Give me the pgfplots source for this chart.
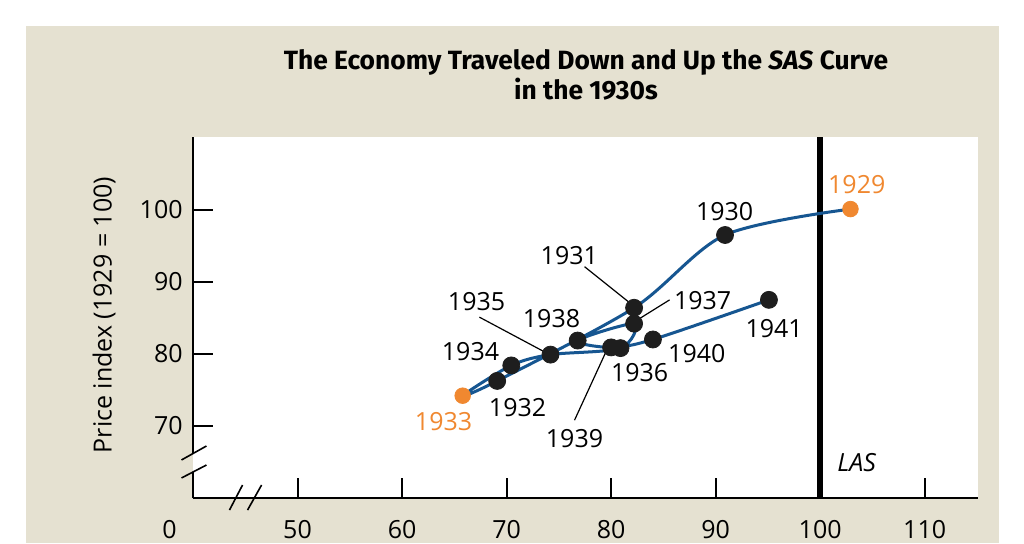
\documentclass[border=0pt]{standalone}
\usepackage{pgfplots}
\pgfplotsset{compat=1.18}
\usepackage{fontspec}
\setmainfont{Open Sans}
\newfontfamily\titlefont{Fira Sans}

\definecolor{panel}{RGB}{229,225,209}
\definecolor{sasblue}{RGB}{22,86,145}
\definecolor{yrorange}{RGB}{240,136,48}
\definecolor{dot}{RGB}{30,30,30}

\newcommand{\lbl}{\fontsize{12.5}{15}\selectfont}

\begin{document}
\begin{tikzpicture}[x=0.5pt,y=0.5pt]
\useasboundingbox (0,0) rectangle (1024,543);
\fill[white] (0,0) rectangle (1024,543);
\fill[panel] (26,0) rectangle (999,517);
\node[align=center, font=\titlefont\bfseries\fontsize{13.2}{15}\selectfont]
  at (586,468) {The Economy Traveled Down and Up the \textit{SAS} Curve\\in the 1930s};

\begin{axis}[
    at={(96.5pt,22.5pt)}, anchor=south west,
    scale only axis,
    width=392.5pt, height=180.5pt,
    xmin=40, xmax=115.1, ymin=60, ymax=110.1,
    axis lines=left,
    axis line style={-, line width=1pt},
    y axis line style={draw=none},
    axis background/.style={fill=white},
    xtick={50,60,70,80,90,100,110},
    ytick={70,80,90,100},
    tick align=inside,
    major tick length=10pt,
    tick style={line width=1pt, black},
    /pgf/number format/assume math mode=true,
    ticklabel style={font=\lbl},
    xticklabel style={anchor=base, yshift=-20pt},
    yticklabel style={anchor=east, inner sep=0pt, xshift=-5pt},
    clip=false,
]
% y axis with break
\draw[line width=1pt] (axis cs:40,60) -- (axis cs:40,63.6);
\draw[line width=1pt] (axis cs:40,66.25) -- (axis cs:40,110.1);
\draw[line width=0.8pt] (axis cs:38.9,65.28) -- (axis cs:41.29,67.22);
\draw[line width=0.8pt] (axis cs:38.9,62.78) -- (axis cs:41.29,64.58);
% x axis break
\draw[line width=0.8pt] (axis cs:43.49,58.33) -- (axis cs:44.74,61.8);
\draw[line width=0.8pt] (axis cs:45.22,58.33) -- (axis cs:46.56,61.8);
\node[font=\lbl, anchor=base] at (axis cs:37.75,60) [yshift=-20pt] {0};
\node[font=\lbl, rotate=90] at (axis cs:31.5,85.4) {Price index (1929 = 100)};

% LAS
\addplot[line width=3pt, black] coordinates {(100,60) (100,110.1)};
\node[font=\lbl\itshape] at (axis cs:103.5,64.9) {LAS};

% path of the economy, year by year
\addplot[smooth, line width=1.5pt, sasblue] coordinates {
    (102.9,100.1) (90.9,96.5) (82.2,86.4) (69.1,76.25) (65.8,74.2)
    (70.45,78.4) (74.2,79.9) (80.9,80.8) (82.2,84.2) (76.8,81.85)
    (80.0,80.9) (84.0,82.0) (95.1,87.5)
};
\addplot[only marks, mark=*, mark size=4.25pt, dot] coordinates {
    (90.9,96.5) (82.2,86.4) (69.1,76.25) (70.45,78.4) (74.2,79.9)
    (80.9,80.8) (82.2,84.2) (76.8,81.85) (80.0,80.9) (84.0,82.0) (95.1,87.5)
};
\addplot[only marks, mark=*, mark size=3.9pt, yrorange] coordinates {
    (102.9,100.1) (65.8,74.2)
};

% leader lines
\draw[line width=0.6pt] (axis cs:77.46,92.1) -- (axis cs:81.77,87.1);
\draw[line width=0.6pt] (axis cs:67.4,85.1) -- (axis cs:73.6,80.3);
\draw[line width=0.6pt] (axis cs:85.6,87.5) -- (axis cs:82.5,84.7);
\draw[line width=0.6pt] (axis cs:76.5,70.8) -- (axis cs:79.67,80.8);

% year labels
\node[font=\lbl, text=yrorange] at (axis cs:103.5,103.5) {1929};
\node[font=\lbl] at (axis cs:90.86,99.7) {1930};
\node[font=\lbl] at (axis cs:76.0,93.6) {1931};
\node[font=\lbl] at (axis cs:71.05,72.6) {1932};
\node[font=\lbl, text=yrorange] at (axis cs:63.97,70.55) {1933};
\node[font=\lbl] at (axis cs:66.55,80.3) {1934};
\node[font=\lbl] at (axis cs:67.13,87.2) {1935};
\node[font=\lbl] at (axis cs:82.73,77.4) {1936};
\node[font=\lbl] at (axis cs:88.76,87.36) {1937};
\node[font=\lbl] at (axis cs:74.3,84.9) {1938};
\node[font=\lbl] at (axis cs:76.5,68.3) {1939};
\node[font=\lbl] at (axis cs:88.2,80.1) {1940};
\node[font=\lbl] at (axis cs:95.6,83.5) {1941};
\end{axis}
\end{tikzpicture}
\end{document}
